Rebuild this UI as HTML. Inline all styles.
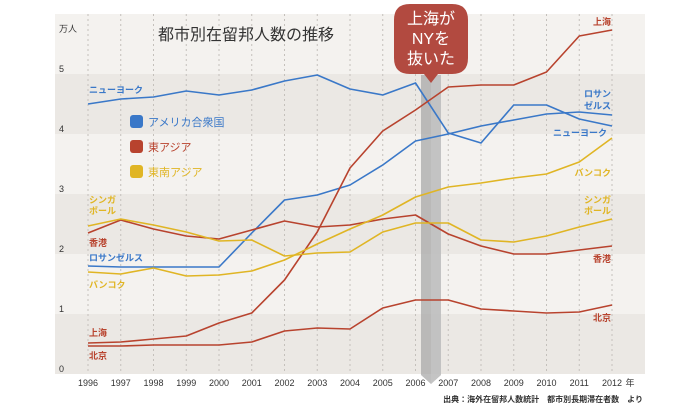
<!DOCTYPE html>
<html><head><meta charset="utf-8"><style>
html,body{margin:0;padding:0;background:#fff;width:700px;height:405px;overflow:hidden}
svg{display:block;font-family:"Liberation Sans","Noto Sans CJK JP",sans-serif}
</style></head><body>
<svg width="700" height="405" viewBox="0 0 700 405">
<rect x="55" y="14" width="590" height="360" fill="#f4f2ef"/>
<rect x="55" y="74" width="590" height="60" fill="#ebe8e4"/>
<rect x="55" y="194" width="590" height="60" fill="#ebe8e4"/>
<rect x="55" y="314" width="590" height="60" fill="#ebe8e4"/>
<g stroke="#c4c0bb" stroke-width="1" stroke-dasharray="2,3">
<line x1="88" y1="14" x2="88" y2="374"/><line x1="120.75" y1="14" x2="120.75" y2="374"/><line x1="153.5" y1="14" x2="153.5" y2="374"/><line x1="186.25" y1="14" x2="186.25" y2="374"/><line x1="219" y1="14" x2="219" y2="374"/><line x1="251.75" y1="14" x2="251.75" y2="374"/><line x1="284.5" y1="14" x2="284.5" y2="374"/><line x1="317.25" y1="14" x2="317.25" y2="374"/><line x1="350" y1="14" x2="350" y2="374"/><line x1="382.75" y1="14" x2="382.75" y2="374"/><line x1="415.5" y1="14" x2="415.5" y2="374"/><line x1="448.25" y1="14" x2="448.25" y2="374"/><line x1="481" y1="14" x2="481" y2="374"/><line x1="513.75" y1="14" x2="513.75" y2="374"/><line x1="546.5" y1="14" x2="546.5" y2="374"/><line x1="579.25" y1="14" x2="579.25" y2="374"/><line x1="612" y1="14" x2="612" y2="374"/>
</g>
<polygon points="421,75 441,75 441,375 431,384 421,375" fill="#a9a9a9" opacity="0.75"/>
<polygon points="431,75 441,75 441,375 431,384" fill="#c8c8c8" opacity="0.6"/>
<g fill="none" stroke-width="1.6" stroke-linejoin="round">
<polyline stroke="#3a78c8" points="88,104 120.75,99 153.5,97 186.25,91 219,95 251.75,90 284.5,81 317.25,75 350,89 382.75,95 415.5,83 448.25,133 481,143 513.75,105 546.5,105 579.25,119 612,126"/>
<polyline stroke="#3a78c8" points="88,266 120.75,267 153.5,267 186.25,267 219,267 251.75,233 284.5,200 317.25,195 350,185 382.75,165 415.5,141 448.25,134 481,126 513.75,120 546.5,114 579.25,112 612,115"/>
<polyline stroke="#b8432e" points="88,343 120.75,342 153.5,339 186.25,336 219,323 251.75,313 284.5,280 317.25,232 350,168 382.75,131 415.5,110 448.25,87 481,85 513.75,85 546.5,72 579.25,36 612,30"/>
<polyline stroke="#b8432e" points="88,346 120.75,346 153.5,345 186.25,345 219,345 251.75,342 284.5,331 317.25,328 350,329 382.75,308 415.5,300 448.25,300 481,309 513.75,311 546.5,313 579.25,312 612,305"/>
<polyline stroke="#b8432e" points="88,233 120.75,220 153.5,229 186.25,236 219,239 251.75,230 284.5,221 317.25,227 350,225 382.75,219 415.5,215 448.25,234 481,246 513.75,254 546.5,254 579.25,250 612,246"/>
<polyline stroke="#e0b524" points="88,226 120.75,219 153.5,225 186.25,232 219,241 251.75,240 284.5,256 317.25,253 350,252 382.75,232 415.5,223 448.25,223 481,240 513.75,242 546.5,236 579.25,227 612,219"/>
<polyline stroke="#e0b524" points="88,272 120.75,274 153.5,268 186.25,276 219,275 251.75,271 284.5,260 317.25,244 350,229 382.75,215 415.5,197 448.25,187 481,183 513.75,178 546.5,174 579.25,162 612,138"/>
</g>
<path d="M410,4 h42 q16,0 16,16 v38 q0,16 -16,16 h-14 l-7,9 l-7,-9 h-14 q-16,0 -16,-16 v-38 q0,-16 16,-16z" fill="#b24a40"/>
<g fill="#fff" font-size="16" text-anchor="middle"><text x="431" y="24">上海が</text><text x="431" y="44">NYを</text><text x="431" y="64">抜いた</text></g>
<text x="158" y="40" font-size="16" fill="#333">都市別在留邦人数の推移</text>
<g font-size="9" fill="#333"><text x="59" y="32">万人</text><text x="59" y="72">5</text><text x="59" y="132">4</text><text x="59" y="192">3</text><text x="59" y="252">2</text><text x="59" y="312">1</text><text x="59" y="372">0</text></g>
<g font-size="9" fill="#333" text-anchor="middle">
<text x="88" y="386">1996</text><text x="120.75" y="386">1997</text><text x="153.5" y="386">1998</text><text x="186.25" y="386">1999</text><text x="219" y="386">2000</text><text x="251.75" y="386">2001</text><text x="284.5" y="386">2002</text><text x="317.25" y="386">2003</text><text x="350" y="386">2004</text><text x="382.75" y="386">2005</text><text x="415.5" y="386">2006</text><text x="448.25" y="386">2007</text><text x="481" y="386">2008</text><text x="513.75" y="386">2009</text><text x="546.5" y="386">2010</text><text x="579.25" y="386">2011</text><text x="612" y="386">2012</text><text x="630" y="386">年</text></g>
<rect x="130" y="115" width="13" height="13" rx="3" fill="#3a78c8"/><text x="148" y="126" font-size="11" fill="#3a78c8">アメリカ合衆国</text>
<rect x="130" y="140" width="13" height="13" rx="3" fill="#b8432e"/><text x="148" y="151" font-size="11" fill="#b8432e">東アジア</text>
<rect x="130" y="165" width="13" height="13" rx="3" fill="#e0b524"/><text x="148" y="176" font-size="11" fill="#e0b524">東南アジア</text>
<g font-size="9" font-weight="bold">
<text x="89" y="93" fill="#3a78c8">ニューヨーク</text>
<text x="89" y="203" fill="#e0b524">シンガ</text><text x="89" y="214" fill="#e0b524">ポール</text>
<text x="89" y="246" fill="#b8432e">香港</text>
<text x="89" y="261" fill="#3a78c8">ロサンゼルス</text>
<text x="89" y="288" fill="#e0b524">バンコク</text>
<text x="89" y="336" fill="#b8432e">上海</text>
<text x="89" y="359" fill="#b8432e">北京</text>
</g>
<g font-size="9" font-weight="bold" text-anchor="end">
<text x="611" y="25" fill="#b8432e">上海</text>
<text x="611" y="97" fill="#3a78c8">ロサン</text><text x="611" y="109" fill="#3a78c8">ゼルス</text>
<text x="607" y="136" fill="#3a78c8">ニューヨーク</text>
<text x="611" y="176" fill="#e0b524">バンコク</text>
<text x="611" y="203" fill="#e0b524">シンガ</text><text x="611" y="214" fill="#e0b524">ポール</text>
<text x="611" y="262" fill="#b8432e">香港</text>
<text x="611" y="321" fill="#b8432e">北京</text>
</g>
<text x="643" y="402" font-size="8" font-weight="bold" fill="#333" text-anchor="end">出典：海外在留邦人数統計　都市別長期滞在者数　より</text>
</svg>
</body></html>
